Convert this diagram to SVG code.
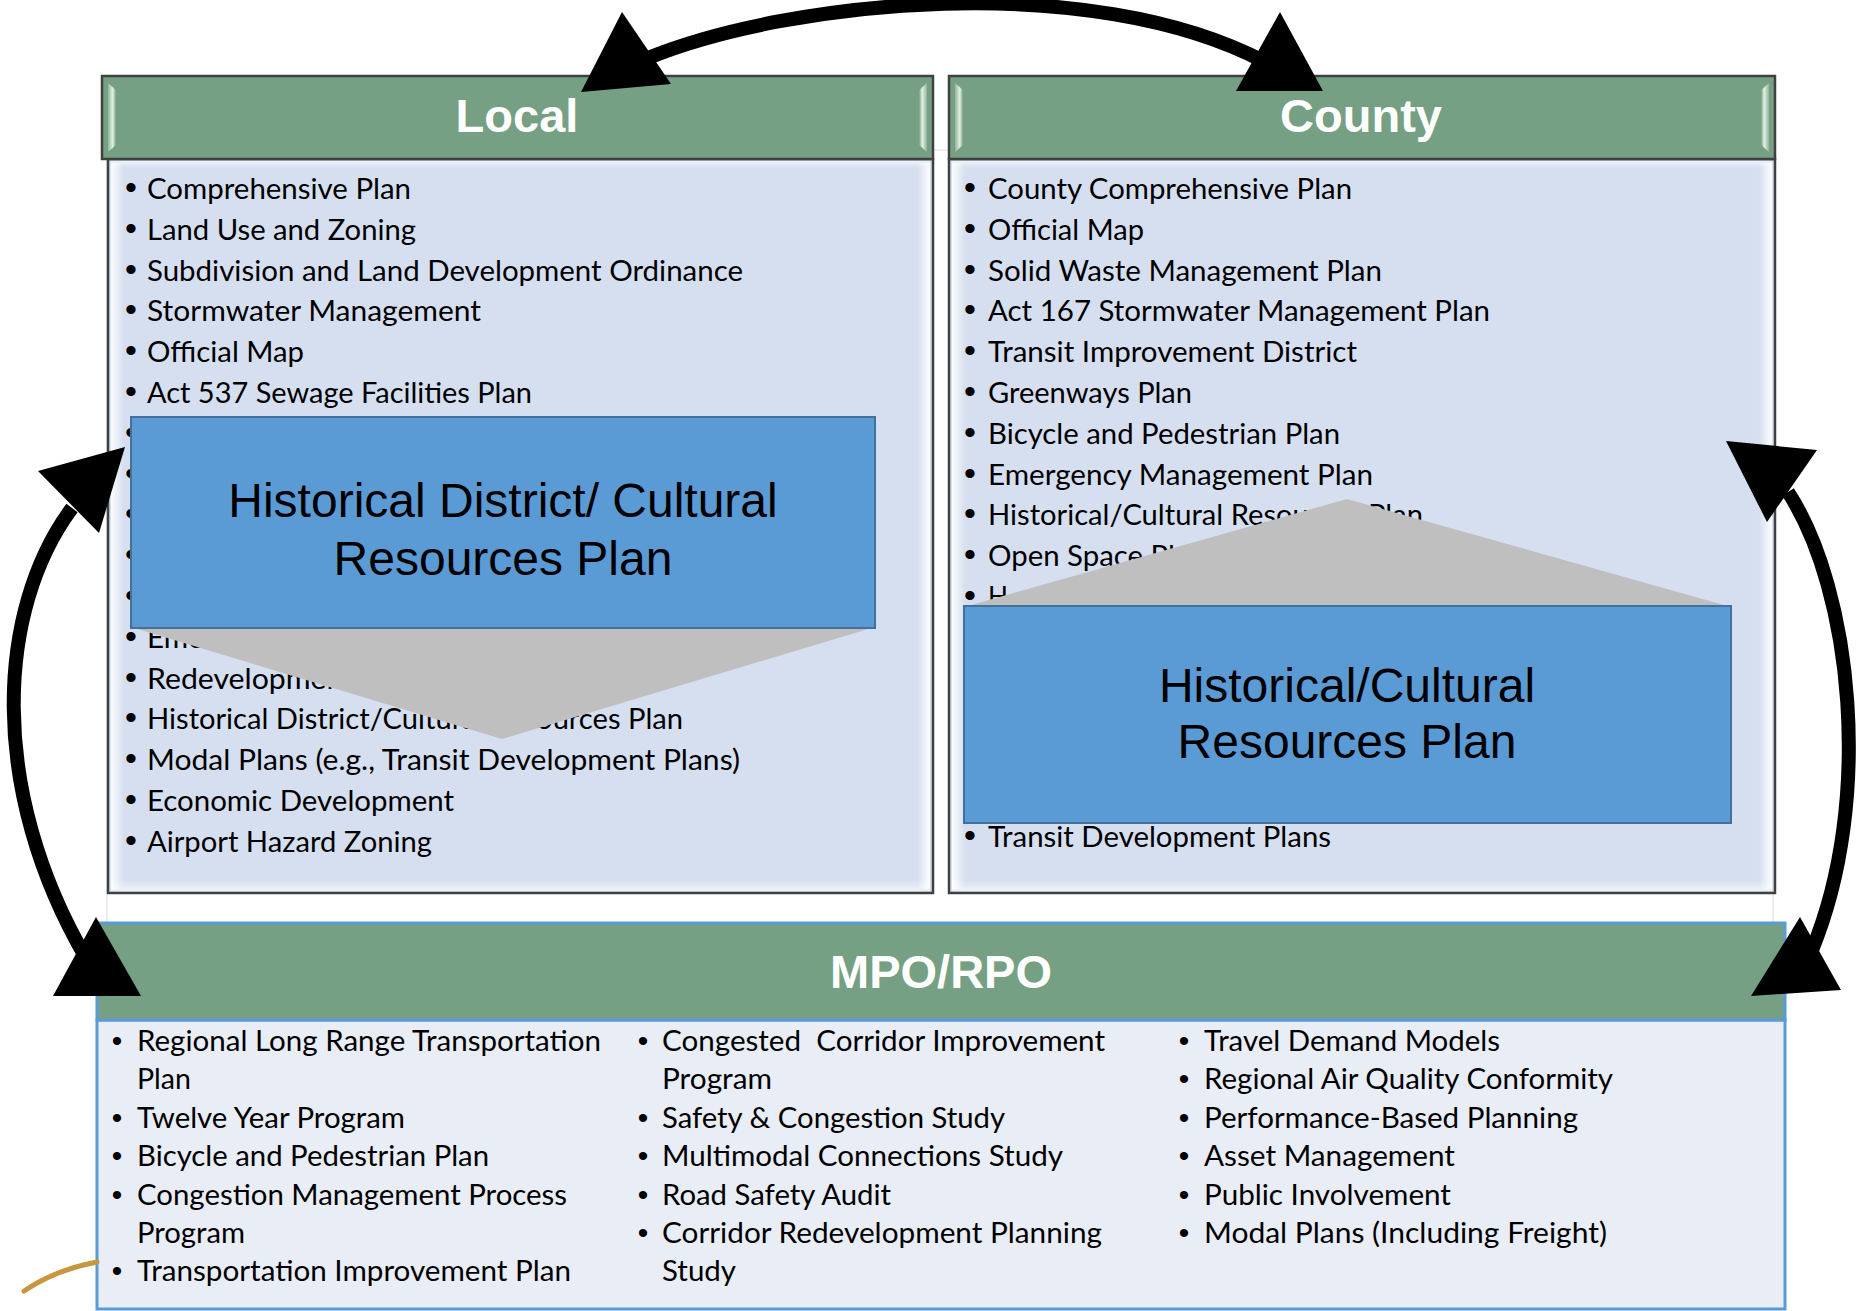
<svg xmlns="http://www.w3.org/2000/svg" width="1865" height="1311" viewBox="0 0 1865 1311">
<defs>
<linearGradient id="hlL" x1="0" y1="0" x2="1" y2="0"><stop offset="0" stop-color="#fff" stop-opacity="0.95"/><stop offset="1" stop-color="#fff" stop-opacity="0"/></linearGradient>
<linearGradient id="hlR" x1="1" y1="0" x2="0" y2="0"><stop offset="0" stop-color="#fff" stop-opacity="0.95"/><stop offset="1" stop-color="#fff" stop-opacity="0"/></linearGradient>
<linearGradient id="hlT" x1="0" y1="0" x2="0" y2="1"><stop offset="0" stop-color="#fff" stop-opacity="0.6"/><stop offset="1" stop-color="#fff" stop-opacity="0"/></linearGradient>
<linearGradient id="hlB" x1="0" y1="1" x2="0" y2="0"><stop offset="0" stop-color="#fff" stop-opacity="0.6"/><stop offset="1" stop-color="#fff" stop-opacity="0"/></linearGradient>
<linearGradient id="ghL" x1="0" y1="0" x2="1" y2="0"><stop offset="0" stop-color="#8fb59a"/><stop offset="0.6" stop-color="#e3f1e6"/><stop offset="1" stop-color="#75a083"/></linearGradient>
<linearGradient id="ghR" x1="1" y1="0" x2="0" y2="0"><stop offset="0" stop-color="#8fb59a"/><stop offset="0.6" stop-color="#e3f1e6"/><stop offset="1" stop-color="#75a083"/></linearGradient>
</defs>
<style>
.hdr{fill:#75a083;stroke:#404040;stroke-width:2.5}
.body{fill:#d6dff0;stroke:#404040;stroke-width:2.5}
.hd{font-family:"Liberation Sans",Arial,sans-serif;font-weight:bold;font-size:47px;fill:#fff;text-anchor:middle}
.li{font-family:Lato,"Liberation Sans",sans-serif;font-size:29px;fill:#000}
.bu{font-family:"Liberation Sans",Arial,sans-serif;font-size:34px;fill:#000;text-anchor:middle}
.bs{font-size:30px}
.bx{font-family:"Liberation Sans",Arial,sans-serif;font-size:48px;fill:#000;text-anchor:middle}
.blue{fill:#5b9bd5;stroke:#41719c;stroke-width:2}
.chev{fill:#bfbfbf}
.arc{fill:none;stroke:#000;stroke-width:14}
.head{fill:#000}
</style>
<rect x="107" y="150" width="1666" height="773" fill="#fff" stroke="#d9d9d9" stroke-width="1"/>

<g id="local">
<rect class="body" x="108" y="159" width="825" height="734"/>
<rect x="111" y="163" width="13" height="726" fill="url(#hlL)"/>
<rect x="917" y="163" width="13" height="726" fill="url(#hlR)"/>
<rect x="111" y="161" width="819" height="7" fill="url(#hlT)"/>
<rect x="111" y="880" width="819" height="11" fill="url(#hlB)"/>
<rect class="hdr" x="102" y="76" width="831" height="83"/>
<polygon points="108,83 116,90 116,145 108,152" fill="url(#ghL)"/>
<polygon points="927,83 919,90 919,145 927,152" fill="url(#ghR)"/>
<text class="hd" x="517" y="132">Local</text>
<text class="bu" x="131" y="199">•</text><text class="li" x="147" y="199" textLength="264" lengthAdjust="spacingAndGlyphs">Comprehensive Plan</text>
<text class="bu" x="131" y="239.8">•</text><text class="li" x="147" y="239.8" textLength="269" lengthAdjust="spacingAndGlyphs">Land Use and Zoning</text>
<text class="bu" x="131" y="280.6">•</text><text class="li" x="147" y="280.6" textLength="596" lengthAdjust="spacingAndGlyphs">Subdivision and Land Development Ordinance</text>
<text class="bu" x="131" y="321.4">•</text><text class="li" x="147" y="321.4" textLength="334" lengthAdjust="spacingAndGlyphs">Stormwater Management</text>
<text class="bu" x="131" y="362.2">•</text><text class="li" x="147" y="362.2" textLength="157" lengthAdjust="spacingAndGlyphs">Official Map</text>
<text class="bu" x="131" y="403">•</text><text class="li" x="147" y="403" textLength="385" lengthAdjust="spacingAndGlyphs">Act 537 Sewage Facilities Plan</text>
<text class="bu" x="131" y="443.8">•</text>
<text class="bu" x="131" y="484.6">•</text>
<text class="bu" x="131" y="525.4">•</text>
<text class="bu" x="131" y="566.2">•</text>
<text class="bu" x="131" y="607">•</text>
<text class="bu" x="131" y="647.8">•</text><text class="li" x="147" y="647.8" textLength="144" lengthAdjust="spacingAndGlyphs">Emergency</text>
<text class="bu" x="131" y="688.6">•</text><text class="li" x="147" y="688.6" textLength="207" lengthAdjust="spacingAndGlyphs">Redevelopment</text>
<text class="bu" x="131" y="729.4">•</text><text class="li" x="147" y="729.4" textLength="536" lengthAdjust="spacingAndGlyphs">Historical District/Cultural Resources Plan</text>
<text class="bu" x="131" y="770.2">•</text><text class="li" x="147" y="770.2" textLength="593" lengthAdjust="spacingAndGlyphs">Modal Plans (e.g., Transit Development Plans)</text>
<text class="bu" x="131" y="811">•</text><text class="li" x="147" y="811" textLength="307" lengthAdjust="spacingAndGlyphs">Economic Development</text>
<text class="bu" x="131" y="851.8">•</text><text class="li" x="147" y="851.8" textLength="285" lengthAdjust="spacingAndGlyphs">Airport Hazard Zoning</text>
</g>

<g id="county">
<rect class="body" x="949" y="159" width="826" height="734"/>
<rect x="952" y="163" width="13" height="726" fill="url(#hlL)"/>
<rect x="1759" y="163" width="13" height="726" fill="url(#hlR)"/>
<rect x="952" y="161" width="820" height="7" fill="url(#hlT)"/>
<rect x="952" y="880" width="820" height="11" fill="url(#hlB)"/>
<rect class="hdr" x="949" y="76" width="826" height="83"/>
<polygon points="955,83 963,90 963,145 955,152" fill="url(#ghL)"/>
<polygon points="1769,83 1761,90 1761,145 1769,152" fill="url(#ghR)"/>
<text class="hd" x="1361" y="132">County</text>
<text class="bu" x="970" y="199">•</text><text class="li" x="988" y="199" textLength="364" lengthAdjust="spacingAndGlyphs">County Comprehensive Plan</text>
<text class="bu" x="970" y="239.8">•</text><text class="li" x="988" y="239.8" textLength="156" lengthAdjust="spacingAndGlyphs">Official Map</text>
<text class="bu" x="970" y="280.6">•</text><text class="li" x="988" y="280.6" textLength="394" lengthAdjust="spacingAndGlyphs">Solid Waste Management Plan</text>
<text class="bu" x="970" y="321.4">•</text><text class="li" x="988" y="321.4" textLength="502" lengthAdjust="spacingAndGlyphs">Act 167 Stormwater Management Plan</text>
<text class="bu" x="970" y="362.2">•</text><text class="li" x="988" y="362.2" textLength="369" lengthAdjust="spacingAndGlyphs">Transit Improvement District</text>
<text class="bu" x="970" y="403">•</text><text class="li" x="988" y="403" textLength="204" lengthAdjust="spacingAndGlyphs">Greenways Plan</text>
<text class="bu" x="970" y="443.8">•</text><text class="li" x="988" y="443.8" textLength="352" lengthAdjust="spacingAndGlyphs">Bicycle and Pedestrian Plan</text>
<text class="bu" x="970" y="484.6">•</text><text class="li" x="988" y="484.6" textLength="385" lengthAdjust="spacingAndGlyphs">Emergency Management Plan</text>
<text class="bu" x="970" y="525.4">•</text><text class="li" x="988" y="525.4" textLength="435" lengthAdjust="spacingAndGlyphs">Historical/Cultural Resources Plan</text>
<text class="bu" x="970" y="566.2">•</text><text class="li" x="988" y="566.2" textLength="218" lengthAdjust="spacingAndGlyphs">Open Space Plan</text>
<text class="bu" x="970" y="607">•</text><text class="li" x="988" y="607" textLength="20" lengthAdjust="spacingAndGlyphs">H</text>
<text class="bu" x="970" y="847">•</text><text class="li" x="988" y="847" textLength="343" lengthAdjust="spacingAndGlyphs">Transit Development Plans</text>
</g>

<g id="mpo">
<rect x="97" y="1020" width="1688" height="289" fill="#e9edf6" stroke="#5b9bd5" stroke-width="3"/>
<rect x="97" y="923" width="1688" height="97" fill="#75a083" stroke="#5b9bd5" stroke-width="3"/>
<text class="hd" x="941" y="988">MPO/RPO</text>
<text class="bu bs" x="117" y="1051">•</text><text class="li" x="137" y="1051" textLength="464" lengthAdjust="spacingAndGlyphs">Regional Long Range Transportation</text>
<text class="li" x="137" y="1089.4" textLength="54" lengthAdjust="spacingAndGlyphs">Plan</text>
<text class="bu bs" x="117" y="1127.8">•</text><text class="li" x="137" y="1127.8" textLength="268" lengthAdjust="spacingAndGlyphs">Twelve Year Program</text>
<text class="bu bs" x="117" y="1166.2">•</text><text class="li" x="137" y="1166.2" textLength="352" lengthAdjust="spacingAndGlyphs">Bicycle and Pedestrian Plan</text>
<text class="bu bs" x="117" y="1204.6">•</text><text class="li" x="137" y="1204.6" textLength="430" lengthAdjust="spacingAndGlyphs">Congestion Management Process</text>
<text class="li" x="137" y="1243" textLength="108" lengthAdjust="spacingAndGlyphs">Program</text>
<text class="bu bs" x="117" y="1281.4">•</text><text class="li" x="137" y="1281.4" textLength="434" lengthAdjust="spacingAndGlyphs">Transportation Improvement Plan</text>
<text class="bu bs" x="643" y="1051">•</text><text class="li" x="662" y="1051" textLength="443" lengthAdjust="spacingAndGlyphs" xml:space="preserve">Congested  Corridor Improvement</text>
<text class="li" x="662" y="1089.4" textLength="110" lengthAdjust="spacingAndGlyphs">Program</text>
<text class="bu bs" x="643" y="1127.8">•</text><text class="li" x="662" y="1127.8" textLength="343" lengthAdjust="spacingAndGlyphs">Safety &amp; Congestion Study</text>
<text class="bu bs" x="643" y="1166.2">•</text><text class="li" x="662" y="1166.2" textLength="401" lengthAdjust="spacingAndGlyphs">Multimodal Connections Study</text>
<text class="bu bs" x="643" y="1204.6">•</text><text class="li" x="662" y="1204.6" textLength="229" lengthAdjust="spacingAndGlyphs">Road Safety Audit</text>
<text class="bu bs" x="643" y="1243">•</text><text class="li" x="662" y="1243" textLength="440" lengthAdjust="spacingAndGlyphs">Corridor Redevelopment Planning</text>
<text class="li" x="662" y="1281.4" textLength="74" lengthAdjust="spacingAndGlyphs">Study</text>
<text class="bu bs" x="1184" y="1051">•</text><text class="li" x="1204" y="1051" textLength="296" lengthAdjust="spacingAndGlyphs">Travel Demand Models</text>
<text class="bu bs" x="1184" y="1089.4">•</text><text class="li" x="1204" y="1089.4" textLength="409" lengthAdjust="spacingAndGlyphs">Regional Air Quality Conformity</text>
<text class="bu bs" x="1184" y="1127.8">•</text><text class="li" x="1204" y="1127.8" textLength="374" lengthAdjust="spacingAndGlyphs">Performance-Based Planning</text>
<text class="bu bs" x="1184" y="1166.2">•</text><text class="li" x="1204" y="1166.2" textLength="251" lengthAdjust="spacingAndGlyphs">Asset Management</text>
<text class="bu bs" x="1184" y="1204.6">•</text><text class="li" x="1204" y="1204.6" textLength="247" lengthAdjust="spacingAndGlyphs">Public Involvement</text>
<text class="bu bs" x="1184" y="1243">•</text><text class="li" x="1204" y="1243" textLength="403" lengthAdjust="spacingAndGlyphs">Modal Plans (Including Freight)</text>
</g>

<g id="local-callout">
<polygon class="chev" points="131,627 875,627 502,739"/>
<rect class="blue" x="131" y="417" width="744" height="211"/>
<text class="bx" x="503" y="517">Historical District/ Cultural</text>
<text class="bx" x="503" y="575">Resources Plan</text>
</g>

<g id="county-callout">
<polygon class="chev" points="964,607 1731,607 1347,499"/>
<rect class="blue" x="964" y="606" width="767" height="217"/>
<text class="bx" x="1347" y="702">Historical/Cultural</text>
<text class="bx" x="1347" y="758">Resources Plan</text>
</g>

<path d="M24 1291 Q55 1270 97 1262" fill="none" stroke="#c8963e" stroke-width="5" stroke-linecap="round"/>

<g id="connectors">
<path class="arc" d="M648 58 C790 0 1090 -30 1265 62"/>
<polygon class="head" points="581,92 622,12 671,84"/>
<polygon class="head" points="1280,12 1236,91 1323,91"/>
<path class="arc" d="M72 508 C-4 610 -12 790 86 958"/>
<polygon class="head" points="38,471 125,447 99,533"/>
<polygon class="head" points="96,917 53,996 141,996"/>
<path class="arc" d="M1788 492 C1852 590 1874 800 1812 950"/>
<polygon class="head" points="1726,441 1817,450 1767,522"/>
<polygon class="head" points="1800,917 1751,996 1841,990"/>
</g>
</svg>
